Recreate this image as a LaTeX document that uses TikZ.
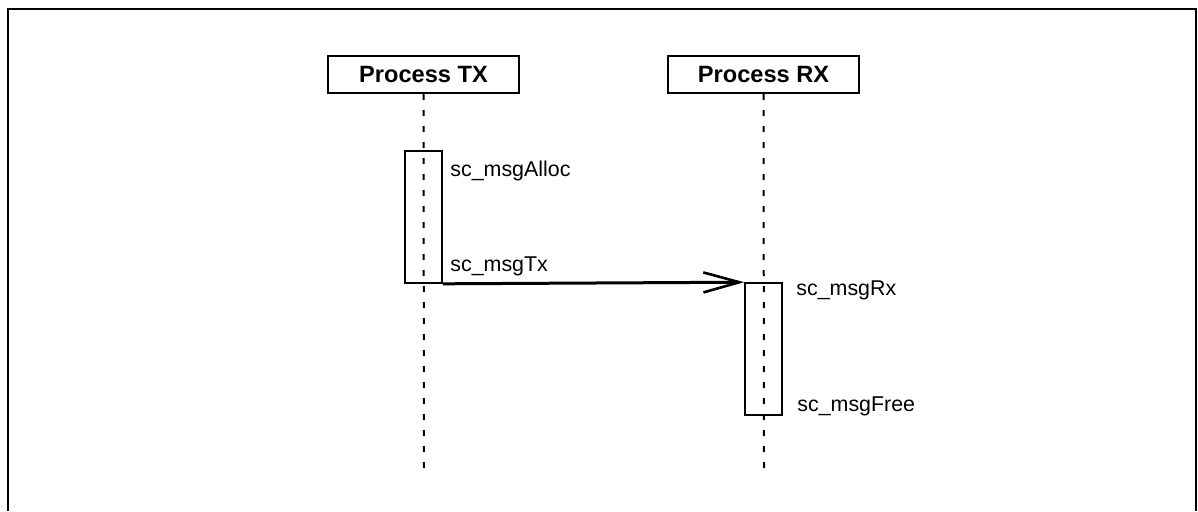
\documentclass[tikz,border=0pt]{standalone}
\usepackage{fontspec}
\setmainfont{Liberation Sans}
\usetikzlibrary{arrows.meta}

\tikzset{
    process/.style={draw, line width=1pt, minimum width=95.5pt, minimum height=18.5pt,
        inner sep=0pt, font=\fontsize{11.8}{14}\selectfont\bfseries},
    lifeline/.style={line width=1pt, dash pattern=on 3pt off 5pt},
    activation/.style={draw, line width=0.8pt, minimum width=18.5pt, minimum height=66pt, inner sep=0pt},
    call/.style={anchor=base west, inner sep=0pt, font=\fontsize{10.7}{13}\selectfont},
    msg/.style={line width=1.5pt, -{Straight Barb[length=18pt,width=10pt,line width=1.3pt]}}
}

\begin{document}
\begin{tikzpicture}[x=0.5pt, y=-0.5pt]
    \useasboundingbox (0,0) rectangle (1198,511);
    \draw[line width=1pt] (8,511) -- (8,9) -- (1196,9) -- (1196,511);

    \node[process] (tx) at (423.5,74.5) {Process TX};
    \node[process] (rx) at (763.5,74.5) {Process RX};

    \coordinate (txend) at (424,473);
    \coordinate (rxend) at (764,473);
    \draw[lifeline] (tx.south) -- (txend);
    \draw[lifeline] (rx.south) -- (rxend);

    \node[activation] (txact) at (423.5,217) {};
    \node[activation] (rxact) at (763.5,349) {};

    \draw[msg] (txact.south east) -- (rxact.north west);

    \node[call] (alloc) at (450,176.5) {sc\_msgAlloc};
    \node[call] (send) at (450,271.5) {sc\_msgTx};
    \node[call] (recv) at (796,295) {sc\_msgRx};
    \node[call] (free) at (797,411.5) {sc\_msgFree};
\end{tikzpicture}
\end{document}
